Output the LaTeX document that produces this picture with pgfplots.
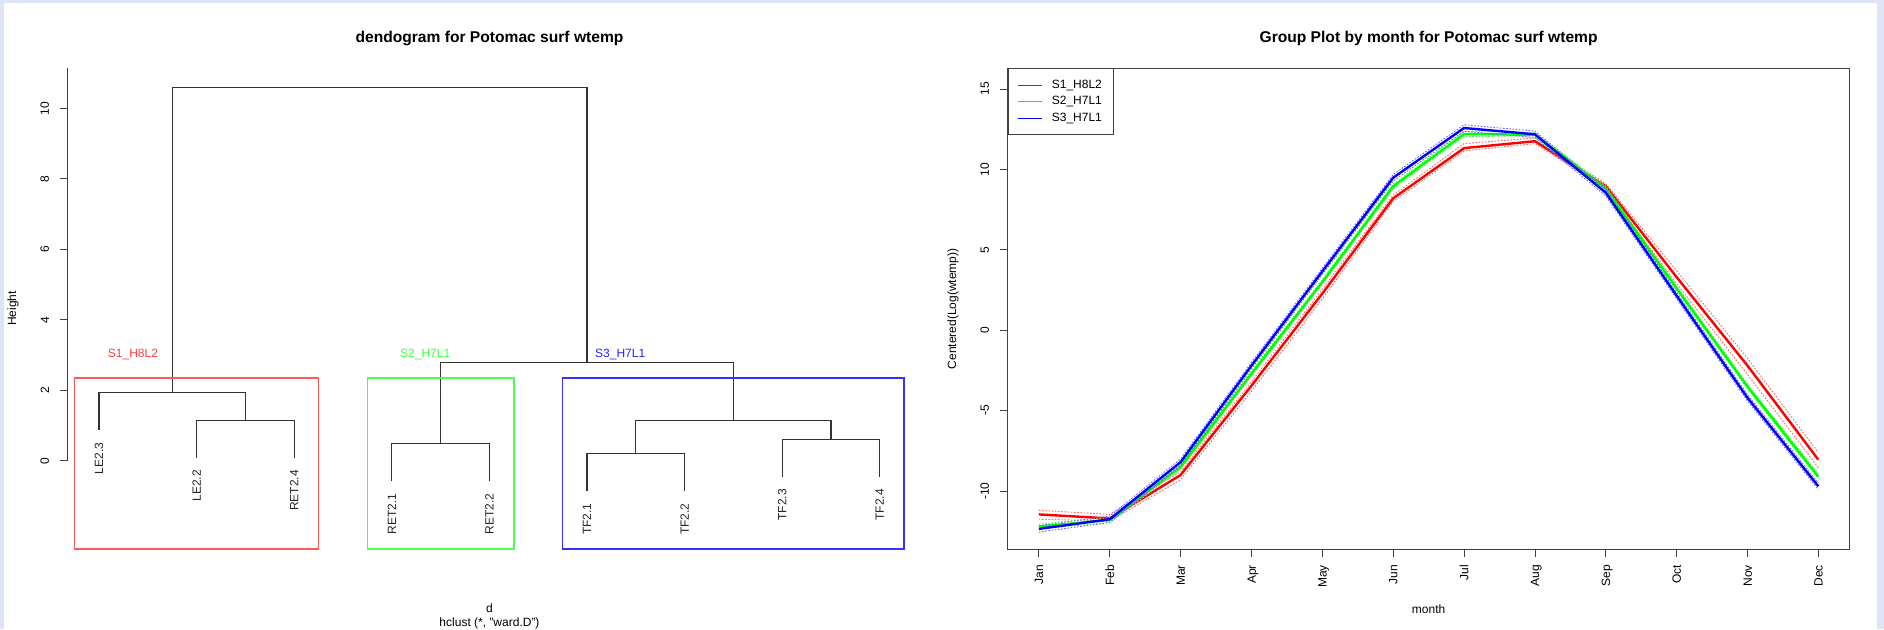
\documentclass[border=0pt]{standalone}
\usepackage{fontspec}
\setmainfont{Liberation Sans}
\usepackage{pgfplots}
\usepackage{pgfplotstable}
\pgfplotsset{compat=1.18}
\definecolor{bgblue}{RGB}{220,228,245}
\definecolor{Rred}{RGB}{255,0,0}
\definecolor{Rgreen}{RGB}{0,255,0}
\definecolor{Rblue}{RGB}{0,0,255}
\tikzset{leaf/.style={rotate=90, anchor=east, inner sep=0pt, text=black!85}}

\pgfplotstableread{
m r rU rL g gU gL b bU bL
1 -11.45 -11.20 -11.75 -12.20 -12.05 -12.35 -12.35 -12.15 -12.55
2 -11.70 -11.45 -11.85 -11.80 -11.65 -11.95 -11.75 -11.55 -11.95
3 -9.00 -8.80 -9.30 -8.50 -8.35 -8.65 -8.20 -8.00 -8.40
4 -3.45 -3.20 -3.80 -2.70 -2.55 -2.85 -2.20 -2.00 -2.40
5 2.28 2.55 1.95 3.00 3.15 2.85 3.66 3.86 3.46
6 8.20 8.40 8.00 8.95 9.10 8.80 9.48 9.68 9.28
7 11.32 11.60 11.15 12.20 12.35 12.05 12.57 12.77 12.37
8 11.75 11.95 11.60 12.15 12.30 12.00 12.18 12.38 11.98
9 8.95 9.10 8.80 8.80 8.95 8.65 8.55 8.75 8.35
10 3.30 3.70 2.90 2.60 2.75 2.45 2.15 2.35 1.95
11 -2.20 -1.75 -2.75 -3.50 -3.35 -3.65 -4.20 -4.00 -4.40
12 -8.05 -7.60 -8.55 -9.10 -8.95 -9.25 -9.70 -9.50 -9.90
}\groupdata

\begin{document}
\fontsize{12}{14}\selectfont
\begin{tikzpicture}[x=1pt,y=1pt]
\useasboundingbox (0,0) rectangle (1884,629);
\fill[bgblue] (0,0) rectangle (1884,629);
\fill[white] (4,0) rectangle (1877,626);
\clip (0,0) rectangle (1884,629);

% ---------------- Dendrogram ----------------
\begin{axis}[
  at={(67.8pt,80pt)}, anchor=south west, scale only axis,
  width=843.2pt, height=480.5pt,
  xmin=0.68, xmax=9.32, ymin=-2.50, ymax=11.13,
  axis x line=none, axis y line*=left, y axis line style={draw=none},
  tick align=outside, major tick length=7.5pt,
  ytick={0,2,4,6,8,10}, yticklabels={0,2,4,6,8,10},
  yticklabel style={rotate=90, anchor=south, inner sep=0pt},
  yticklabel shift=11pt,
  every tick/.style={black!75, line width=0.8pt},
  clip=false,
  dend/.style={black!80, line width=1.1pt, mark=none},
]
\draw[black!75, line width=0.8pt] (axis cs:0.68,0) -- (axis cs:0.68,11.13);
\addplot[dend] coordinates {(1.75,1.93) (1.75,10.6) (6,10.6) (6,2.80)};
\addplot[dend] coordinates {(1,0.87) (1,1.93) (2.5,1.93) (2.5,1.15)};
\addplot[dend] coordinates {(2,0.09) (2,1.15) (3,1.15) (3,0.09)};
\addplot[dend] coordinates {(4.5,0.49) (4.5,2.80) (7.5,2.80) (7.5,1.15)};
\addplot[dend] coordinates {(4,-0.57) (4,0.49) (5,0.49) (5,-0.57)};
\addplot[dend] coordinates {(6.5,0.21) (6.5,1.15) (8.5,1.15) (8.5,0.61)};
\addplot[dend] coordinates {(6,-0.85) (6,0.21) (7,0.21) (7,-0.85)};
\addplot[dend] coordinates {(8,-0.45) (8,0.61) (9,0.61) (9,-0.45)};
% cluster boxes
\addplot[draw=Rred!65, line width=1.4pt, mark=none] coordinates {(0.75,-2.5) (3.25,-2.5) (3.25,2.35) (0.75,2.35)} --cycle;
\addplot[draw=Rgreen!70, line width=1.4pt, mark=none] coordinates {(3.75,-2.5) (5.25,-2.5) (5.25,2.35) (3.75,2.35)} --cycle;
\addplot[draw=Rblue!80, line width=1.4pt, mark=none] coordinates {(5.75,-2.5) (9.25,-2.5) (9.25,2.35) (5.75,2.35)} --cycle;
% leaf labels
\node[leaf] at (axis cs:1,0.52) {LE2.3};
\node[leaf] at (axis cs:2,-0.26) {LE2.2};
\node[leaf] at (axis cs:3,-0.26) {RET2.4};
\node[leaf] at (axis cs:4,-0.92) {RET2.1};
\node[leaf] at (axis cs:5,-0.92) {RET2.2};
\node[leaf] at (axis cs:6,-1.20) {TF2.1};
\node[leaf] at (axis cs:7,-1.20) {TF2.2};
\node[leaf] at (axis cs:8,-0.80) {TF2.3};
\node[leaf] at (axis cs:9,-0.80) {TF2.4};
\node[anchor=west, inner sep=0pt, text=Rred!75] at (axis cs:1.089,3.02) {S1\_H8L2};
\node[anchor=west, inner sep=0pt, text=Rgreen!75] at (axis cs:4.084,3.02) {S2\_H7L1};
\node[anchor=west, inner sep=0pt, text=Rblue!85] at (axis cs:6.082,3.02) {S3\_H7L1};
\end{axis}

% ---------------- Group plot ----------------
\begin{axis}[
  at={(1007.7pt,80pt)}, anchor=south west, scale only axis,
  width=841.8pt, height=480.5pt,
  xmin=0.56, xmax=12.44, ymin=-13.6, ymax=16.27,
  axis line style={black!75, line width=1pt},
  tick align=outside, tick pos=left, major tick length=7.5pt,
  every tick/.style={black!75, line width=0.8pt},
  xtick={1,2,3,4,5,6,7,8,9,10,11,12},
  xticklabels={Jan,Feb,Mar,Apr,May,Jun,Jul,Aug,Sep,Oct,Nov,Dec},
  xticklabel style={rotate=90, anchor=east, inner sep=0pt, text height=8.6pt, text depth=0pt},
  xticklabel shift=8.4pt,
  ytick={-10,-5,0,5,10,15}, yticklabels={-10,-5,0,5,10,15},
  yticklabel style={rotate=90, anchor=south, inner sep=0pt},
  yticklabel shift=11pt,
  legend style={at={(0,1)}, anchor=north west, draw=black!75, line width=0.9pt, fill=white,
    font=\fontsize{12}{14}\selectfont, inner xsep=9pt, inner ysep=8.5pt,
    nodes={inner sep=2.6pt}, row sep=1.1pt},
  legend cell align=left,
  legend image code/.code={\draw[#1, line width=0.8pt, solid] (0pt,0pt) -- (24.7pt,0pt); \path (30.5pt,0pt);},
  dotl/.style={line width=0.9pt, dash pattern=on 1.6pt off 1.6pt, mark=none, forget plot},
]
\addplot[dotl, Rred!60] table[x=m,y=rU]{\groupdata};
\addplot[dotl, Rred!60] table[x=m,y=rL]{\groupdata};
\addplot[Rred, line width=2.4pt, mark=none] table[x=m,y=r]{\groupdata};
\addlegendentry{S1\_H8L2}
\addplot[dotl, Rgreen!70] table[x=m,y=gU]{\groupdata};
\addplot[dotl, Rgreen!70] table[x=m,y=gL]{\groupdata};
\addplot[Rgreen, line width=2.4pt, mark=none] table[x=m,y=g]{\groupdata};
\addlegendentry{S2\_H7L1}
\addplot[dotl, Rblue!60] table[x=m,y=bU]{\groupdata};
\addplot[dotl, Rblue!60] table[x=m,y=bL]{\groupdata};
\addplot[Rblue, line width=2.4pt, mark=none] table[x=m,y=b]{\groupdata};
\addlegendentry{S3\_H7L1}
\end{axis}

% ---------------- Titles and axis labels ----------------
\node[font=\fontsize{15.6}{18}\selectfont\bfseries, anchor=base] at (489.5,586.3) {dendogram for Potomac surf wtemp};
\node[font=\fontsize{15.6}{18}\selectfont\bfseries, anchor=base] at (1428.6,586.3) {Group Plot by month for Potomac surf wtemp};
\node[rotate=90] at (13,320.5) {Height};
\node[anchor=base] at (489.5,16.8) {d};
\node[anchor=base] at (489.5,2.1) {hclust (*, "ward.D")};
\node[anchor=base] at (1428.6,16) {month};
\node[rotate=90] at (953,320.3) {Centered(Log(wtemp))};
\end{tikzpicture}
\end{document}
